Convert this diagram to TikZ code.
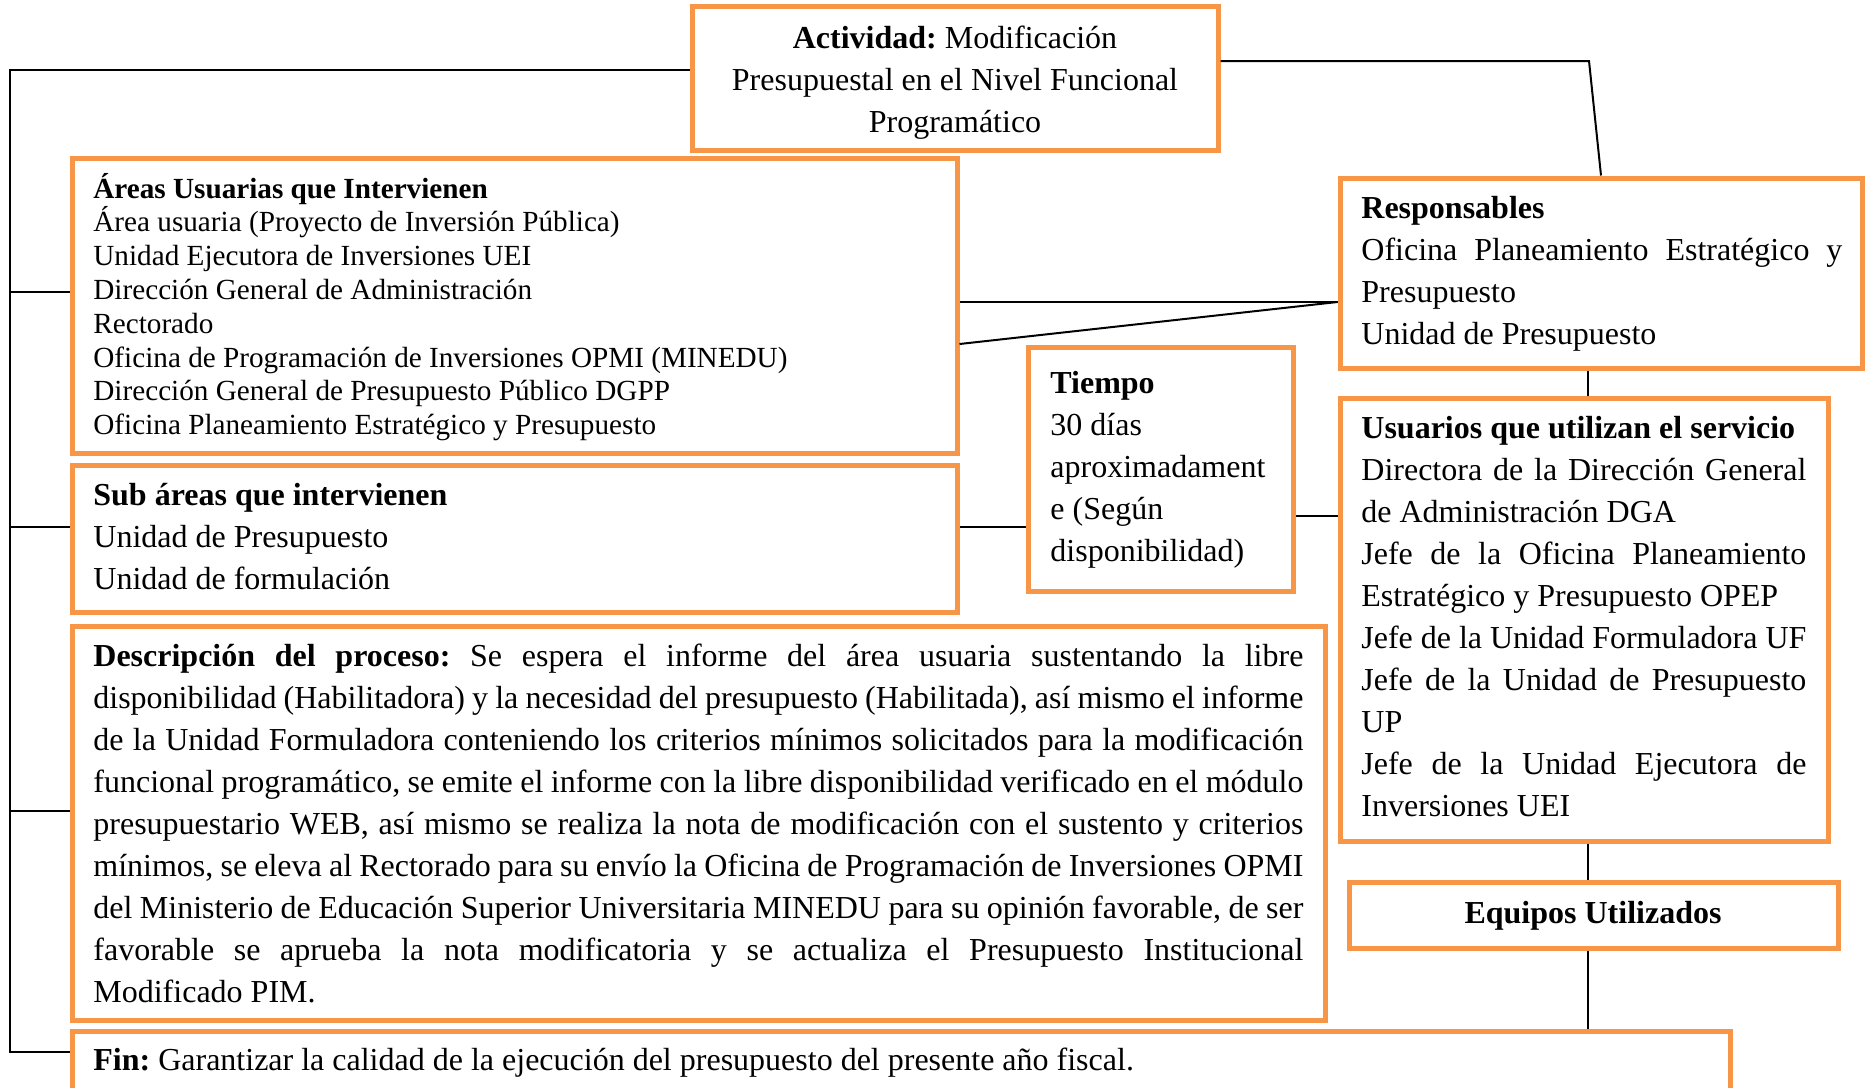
\documentclass[tikz,border=0pt]{standalone}
\usepackage{fontspec}
\setmainfont{Liberation Serif}
\usetikzlibrary{fit}
\definecolor{boxor}{HTML}{F79646}
\newcommand\fsA{\fontsize{16}{21}\selectfont\frenchspacing}
\newcommand\fsB{\fontsize{14.6}{16.9}\selectfont\frenchspacing}
\begin{document}
\begin{tikzpicture}[x=0.5pt,y=-0.5pt,
  box/.style={draw=boxor, line width=2.5pt, inner sep=0pt},
  txt/.style={inner sep=0pt, anchor=base west, font=\fsA},
  conn/.style={draw=black, line width=1pt}]
\useasboundingbox (0,0) rectangle (1866,1087);
% boxes
\node[box, fit={(692,6) (1218,150)}] (act) {};
\node[box, fit={(72,158) (957,453)}] (areas) {};
\node[box, fit={(72,465) (957,612)}] (sub) {};
\node[box, fit={(72,626) (1325,1020)}] (desc) {};
\node[box, fit={(72,1031) (1730,1100)}] (fin) {};
\node[box, fit={(1340,178) (1862,368)}] (resp) {};
\node[box, fit={(1028,347) (1293,591)}] (tiempo) {};
\node[box, fit={(1340,398) (1828,841)}] (usu) {};
\node[box, fit={(1349,882) (1838,948)}] (equip) {};
% texts
\node[txt, anchor=base, text width=255pt, align=flush center] (actT) at (955,48)
  {\textbf{Actividad:} Modificación\\Presupuestal en el Nivel Funcional\\Programático};
\node[txt, font=\fsB, text width=420pt, align=flush left] (areasT) at (93,198)
  {\textbf{Áreas Usuarias que Intervienen}\\
   Área usuaria (Proyecto de Inversión Pública)\\
   Unidad Ejecutora de Inversiones UEI\\
   Dirección General de Administración\\
   Rectorado\\
   Oficina de Programación de Inversiones OPMI (MINEDU)\\
   Dirección General de Presupuesto Público DGPP\\
   Oficina Planeamiento Estratégico y Presupuesto};
\node[txt, text width=420pt, align=flush left] (subT) at (93,505)
  {\textbf{Sub áreas que intervienen}\\Unidad de Presupuesto\\Unidad de formulación};
\node[txt, text width=605pt, align=justify] (descT) at (93,666)
  {\textbf{Descripción del proceso:} Se espera el informe del área usuaria sustentando la libre\linebreak
   disponibilidad (Habilitadora) y la necesidad del presupuesto (Habilitada), así mismo el informe\linebreak
   de la Unidad Formuladora conteniendo los criterios mínimos solicitados para la modificación\linebreak
   funcional programático, se emite el informe con la libre disponibilidad verificado en el módulo\linebreak
   presupuestario WEB, así mismo se realiza la nota de modificación con el sustento y criterios\linebreak
   mínimos, se eleva al Rectorado para su envío la Oficina de Programación de Inversiones OPMI\linebreak
   del Ministerio de Educación Superior Universitaria MINEDU para su opinión favorable, de ser\linebreak
   favorable se aprueba la nota modificatoria y se actualiza el Presupuesto Institucional\linebreak
   Modificado PIM.};
\node[txt, text width=820pt, align=flush left] (finT) at (93,1070)
  {\textbf{Fin:} Garantizar la calidad de la ejecución del presupuesto del presente año fiscal.};
\node[txt, text width=240.5pt, align=justify] (respT) at (1361,218)
  {\textbf{Responsables}\newline
   Oficina Planeamiento Estratégico y\linebreak
   Presupuesto\newline
   Unidad de Presupuesto};
\node[txt, text width=125pt, align=flush left] (tiempoT) at (1050,393)
  {\textbf{Tiempo}\\30 días\\aproximadament\\e (Según\\disponibilidad)};
\node[txt, text width=222.5pt, align=justify] (usuT) at (1361,438)
  {\textbf{Usuarios que utilizan el servicio}\newline
   Directora de la Dirección General\linebreak
   de Administración DGA\newline
   Jefe de la Oficina Planeamiento\linebreak
   Estratégico y Presupuesto OPEP\newline
   Jefe de la Unidad Formuladora UF\linebreak
   Jefe de la Unidad de Presupuesto\linebreak
   UP\newline
   Jefe de la Unidad Ejecutora de\linebreak
   Inversiones UEI};
\node[txt, anchor=base] (equipT) at (1593,923) {\textbf{Equipos Utilizados}};
% connectors
\coordinate (tl) at (10,70);
\coordinate (tb) at (10,1052);
\coordinate (b1) at (10,292);
\coordinate (b2) at (10,527);
\coordinate (b3) at (10,811);
\draw[conn] (tl -| act.west) -- (tl) -- (tb) -- (tb -| fin.west);
\draw[conn] (b1) -- (b1 -| areas.west);
\draw[conn] (b2) -- (b2 -| sub.west);
\draw[conn] (b3) -- (b3 -| desc.west);
\coordinate (r1) at (1589,61);
\coordinate (r2) at (1601,0);
\draw[conn] (r1 -| act.east) -- (r1) -- (resp.north -| r2);
\coordinate (c1) at (0,302);
\coordinate (c2) at (0,344);
\coordinate (c3) at (0,527);
\coordinate (c4) at (0,516);
\draw[conn] (c1 -| areas.east) -- (c1 -| resp.west);
\draw[conn] (c2 -| areas.east) -- (c1 -| resp.west);
\draw[conn] (c3 -| sub.east) -- (c3 -| tiempo.west);
\draw[conn] (c4 -| tiempo.east) -- (c4 -| usu.west);
\coordinate (v) at (1588,0);
\draw[conn] (resp.south -| v) -- (usu.north -| v);
\draw[conn] (usu.south -| v) -- (equip.north -| v);
\draw[conn] (equip.south -| v) -- (fin.north -| v);
\end{tikzpicture}
\end{document}
